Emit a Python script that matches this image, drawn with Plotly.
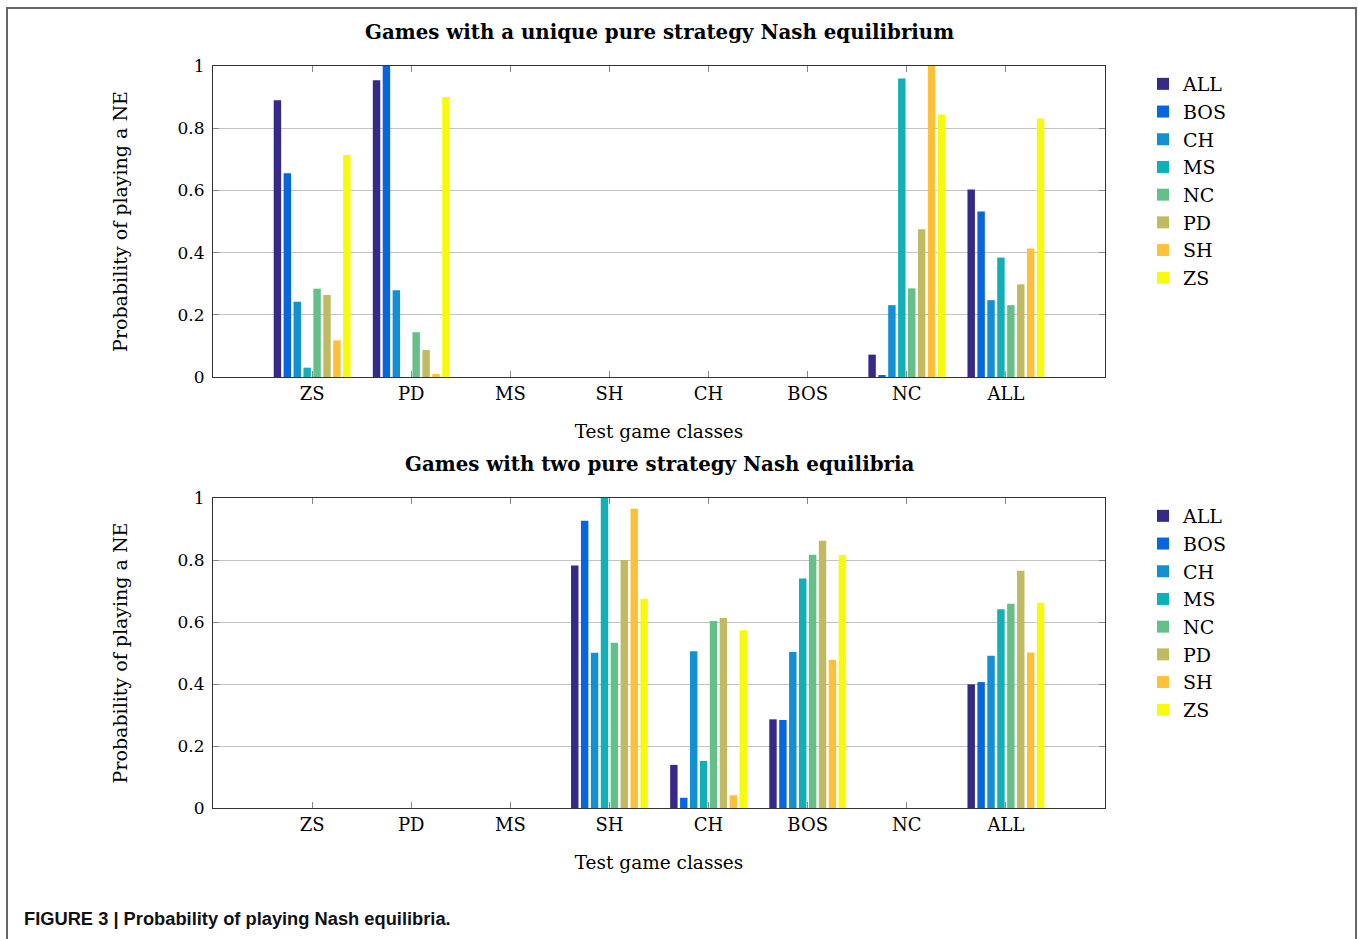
import plotly.graph_objects as go

W, H = 1358, 939

categories = ["ZS", "PD", "MS", "SH", "CH", "BOS", "NC", "ALL"]
series_names = ["ALL", "BOS", "CH", "MS", "NC", "PD", "SH", "ZS"]
colors = ["#352a87", "#0566e0", "#138fd3", "#12afb8", "#64c088", "#c0bb62", "#fec03a", "#f8fa0e"]

# Games with a unique pure strategy Nash equilibrium
unique_ALL = [0.890, 0.954, 0, 0, 0, 0, 0.072, 0.603]
unique_BOS = [0.655, 1.000, 0, 0, 0, 0, 0.005, 0.532]
unique_CH = [0.242, 0.279, 0, 0, 0, 0, 0.231, 0.247]
unique_MS = [0.030, 0.000, 0, 0, 0, 0, 0.960, 0.384]
unique_NC = [0.284, 0.144, 0, 0, 0, 0, 0.285, 0.231]
unique_PD = [0.264, 0.087, 0, 0, 0, 0, 0.475, 0.298]
unique_SH = [0.118, 0.010, 0, 0, 0, 0, 1.000, 0.413]
unique_ZS = [0.714, 0.900, 0, 0, 0, 0, 0.844, 0.831]

# Games with two pure strategy Nash equilibria
two_ALL = [0, 0, 0, 0.782, 0.139, 0.286, 0, 0.399]
two_BOS = [0, 0, 0, 0.927, 0.033, 0.284, 0, 0.406]
two_CH = [0, 0, 0, 0.501, 0.506, 0.503, 0, 0.491]
two_MS = [0, 0, 0, 1.000, 0.152, 0.740, 0, 0.641]
two_NC = [0, 0, 0, 0.533, 0.603, 0.817, 0, 0.659]
two_PD = [0, 0, 0, 0.800, 0.613, 0.862, 0, 0.765]
two_SH = [0, 0, 0, 0.965, 0.041, 0.478, 0, 0.502]
two_ZS = [0, 0, 0, 0.675, 0.573, 0.816, 0, 0.662]

y_ticks = [0, 0.2, 0.4, 0.6, 0.8, 1]
y_ticktext = ["0", "0.2", "0.4", "0.6", "0.8", "1"]

titles = ["Games with a unique pure strategy Nash equilibrium",
          "Games with two pure strategy Nash equilibria"]
x_title = "Test game classes"
y_title = "Probability of playing a NE"
caption = "FIGURE 3 | Probability of playing Nash equilibria."

unique_vals = [unique_ALL, unique_BOS, unique_CH, unique_MS, unique_NC, unique_PD, unique_SH, unique_ZS]
two_vals = [two_ALL, two_BOS, two_CH, two_MS, two_NC, two_PD, two_SH, two_ZS]

SERIF = "DejaVu Serif"
px = lambda v: v / W
py = lambda v: 1 - v / H

fig = go.Figure()
for name, col, vals in zip(series_names, colors, unique_vals):
    fig.add_trace(go.Bar(x=categories, y=vals, name=name, marker=dict(color=col, line=dict(width=0)),
                         xaxis="x", yaxis="y", legend="legend"))
for name, col, vals in zip(series_names, colors, two_vals):
    fig.add_trace(go.Bar(x=categories, y=vals, name=name, marker=dict(color=col, line=dict(width=0)),
                         xaxis="x2", yaxis="y2", legend="legend2"))

xdom = [px(213), px(1105)]


def xaxis(anchor, standoff):
    return dict(domain=xdom, anchor=anchor, type="category", range=[-1.0, 8.0],
                showline=True, linecolor="#333", linewidth=1, mirror="ticks",
                ticks="inside", ticklen=6, tickcolor="#888", tickwidth=1,
                showgrid=False, tickfont=dict(family=SERIF, size=18, color="#000"),
                fixedrange=True, automargin=False,
                title=dict(text=x_title, font=dict(family=SERIF, size=18.5, color="#000"),
                           standoff=standoff))


def yaxis(anchor, dom):
    return dict(domain=dom, anchor=anchor, range=[0, 1], tickvals=y_ticks, ticktext=y_ticktext,
                showline=True, linecolor="#333", linewidth=1, mirror="ticks",
                ticks="inside", ticklen=6, tickcolor="#888", tickwidth=1,
                showgrid=True, gridcolor="#c4c4c4", gridwidth=1, zeroline=False,
                tickfont=dict(family=SERIF, size=17, color="#000"), ticklabelstandoff=4,
                fixedrange=True, automargin=False,
                title=dict(text=y_title, font=dict(family=SERIF, size=19, color="#000"), standoff=44))


leg = dict(xanchor="left", yanchor="top", font=dict(family=SERIF, size=19, color="#000"),
           bgcolor="rgba(0,0,0,0)", borderwidth=0, tracegroupgap=0, itemclick=False)

fig.update_layout(
    width=W, height=H, margin=dict(l=0, r=0, t=0, b=0, pad=0, autoexpand=False),
    paper_bgcolor="white", plot_bgcolor="white",
    barmode="group", bargap=0.2, bargroupgap=0.25,
    xaxis=xaxis("y", 22), yaxis=yaxis("x", [py(377), py(66)]),
    xaxis2=xaxis("y2", 22), yaxis2=yaxis("x2", [py(808), py(498)]),
    legend=dict(leg, x=px(1143), y=py(65)),
    legend2=dict(leg, x=px(1143), y=py(497)),
    showlegend=True,
    annotations=[
        dict(text="<b>" + titles[0] + "</b>", x=px(659), y=py(32), xref="paper", yref="paper",
             showarrow=False, xanchor="center", yanchor="middle",
             font=dict(family=SERIF, size=19.8, color="#000")),
        dict(text="<b>" + titles[1] + "</b>", x=px(659), y=py(464), xref="paper", yref="paper",
             showarrow=False, xanchor="center", yanchor="middle",
             font=dict(family=SERIF, size=19.8, color="#000")),
        dict(text="<b>" + caption + "</b>", x=px(22), y=py(918), xref="paper", yref="paper",
             showarrow=False, xanchor="left", yanchor="middle",
             font=dict(family="Liberation Sans", size=18.3, color="#111")),
    ],
    shapes=[
        dict(type="rect", xref="paper", yref="paper", x0=px(7), x1=px(1356), y0=-0.05, y1=py(8),
             line=dict(color="#666", width=2), fillcolor="rgba(0,0,0,0)", layer="above"),
    ],
)

fig.write_html("out.html")
